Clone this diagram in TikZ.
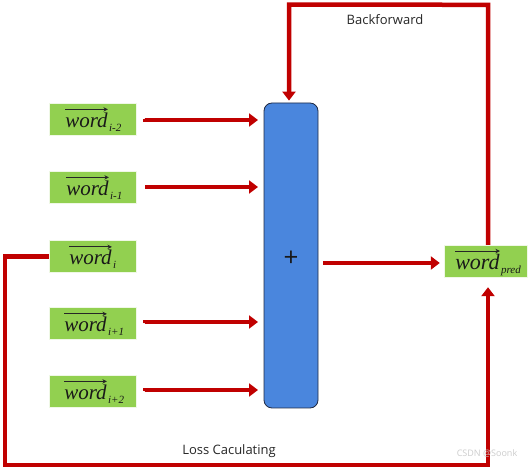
\documentclass[tikz,border=0pt]{standalone}
\usepackage{fontspec}
\newfontfamily\wordfont{Liberation Serif}
\newfontfamily\labelfont{Open Sans}
\usetikzlibrary{arrows.meta,calc}
\definecolor{arrred}{HTML}{C00000}
\definecolor{boxgreen}{HTML}{92D050}
\definecolor{sumblue}{HTML}{4A86DD}
\definecolor{sumedge}{HTML}{1F2A44}
\tikzset{
  wordbox/.style={fill=boxgreen, draw=white!85!boxgreen, line width=0.4pt, minimum width=87pt, minimum height=32pt, inner sep=0pt},
  wordtext/.style={font=\wordfont\itshape\fontsize{21}{24}\selectfont, inner sep=0pt, text=black!90},
  subtext/.style={font=\wordfont\itshape\fontsize{11}{12}\selectfont, inner sep=0pt, anchor=base west, text=black!90},
  vecarrow/.style={draw=black!85, line width=1pt, -{Stealth[length=4.5pt,width=4.5pt]}},
  redarrow/.style={draw=arrred, line width=4.5pt, -{Triangle[length=9pt,width=13pt]}},
  lbl/.style={font=\labelfont\fontsize{13}{15}\selectfont, text=black!85}
}
\newcommand{\wordlabel}[4]{% box name, offset, subscript, subscript shift
  \node[wordtext] (#1t) at ($(#1)+(#2,1)$) {word};
  \node[subtext] (#1s) at ($(#1t.base east)+(1,#4)$) {#3};
  \draw[vecarrow] ($(#1t.north west)+(0,-3)$) -- ($(#1t.north east)+(0,-3)$);
}
\begin{document}
\begin{tikzpicture}[x=1pt,y=-1pt]
\useasboundingbox (0,0) rectangle (531,470);
% sum block
\node[fill=sumblue, draw=sumedge, line width=0.8pt, rounded corners=8pt, minimum width=54pt, minimum height=305pt, inner sep=0pt] (sum) at (291,255.5) {};
\node[font=\labelfont\fontsize{26}{28}\selectfont, text=black!90] (plus) at (291,259) {+};
% word boxes
\node[wordbox] (w1) at (92.5,119) {};
\node[wordbox] (w2) at (92.5,187) {};
\node[wordbox] (w3) at (92.5,256.5) {};
\node[wordbox] (w4) at (92.5,323.5) {};
\node[wordbox] (w5) at (92.5,391) {};
\node[wordbox, minimum width=83pt, minimum height=32pt] (wp) at (485.5,261) {};
\wordlabel{w1}{-6}{i-2}{4}
\wordlabel{w2}{-5}{i-1}{4}
\wordlabel{w3}{-2}{i}{4}
\wordlabel{w4}{-7}{i+1}{4}
\wordlabel{w5}{-7}{i+2}{4}
\node[wordtext, font=\wordfont\itshape\fontsize{22}{24}\selectfont] (wpt) at ($(wp)+(-8,1)$) {word};
\node[subtext] (wps) at ($(wpt.base east)+(1,4)$) {pred};
\draw[vecarrow] ($(wpt.north west)+(0,-3)$) -- ($(wpt.north east)+(0,-3)$);
% input arrows
\foreach \w/\y in {w1/120,w2/187,w4/322,w5/390}{
  \draw[redarrow] ($(\w.east)+(9,0)$) coordinate (s-\w) |- (258,\y) coordinate (e-\w);
}
% output arrow
\coordinate (outS) at ($(sum.east)+(5,7.5)$);
\coordinate (outE) at ($(wp.west)+(-4,0)$);
\draw[redarrow] (outS) -- (outE |- outS);
% backforward loop
\coordinate (bfS) at ($(wp.north)+(2.5,0)$);
\coordinate (bf1) at ($(bfS)+(0,-240)$);
\coordinate (bf2) at ($(sum.north)+(-2,-98)$);
\draw[redarrow] (bfS) -- (bf1) -- (bf2) -- ($(sum.north)+(-2,-2)$);
% loss loop
\coordinate (ls1) at (5,256.5);
\coordinate (ls2) at (5,465);
\coordinate (ls3) at ($(wp.south)+(2.5,0)$);
\draw[redarrow] (w3.west) -- (ls1) -- (ls2) -- (ls3 |- ls2) -- ($(ls3)+(0,10)$);
% labels
\node[lbl] (bflabel) at (385,20) {Backforward};
\node[lbl] (losslabel) at (229,451) {Loss Caculating};
\node[font=\labelfont\fontsize{9}{10}\selectfont, text=black!20] (wm) at (487,453) {CSDN @Soonk};
\end{tikzpicture}
\end{document}
